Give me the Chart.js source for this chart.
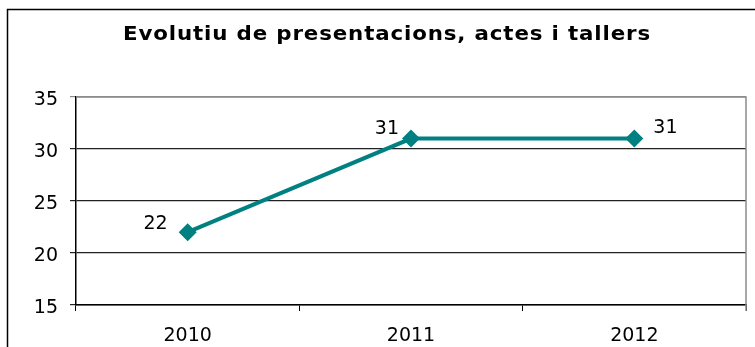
<!DOCTYPE html>
<html>
<head>
<meta charset="utf-8">
<script src="https://cdn.jsdelivr.net/npm/chart.js@4"></script>
<style>
    html, body { margin: 0; padding: 0; background: #fff; }
    #wrap { width: 755px; height: 347px; }
</style>
</head>
<body>
<div id="wrap"><canvas id="chart" width="755" height="347"></canvas></div>
<script>
    // data
    var years = ['2010', '2011', '2012'];
    var events = [22, 31, 31];
    var yTicks = [15, 20, 25, 30, 35];
    var chartTitle = 'Evolutiu de presentacions, actes i tallers';

    var teal = '#008080';
    var font = 'DejaVu Sans';

    // where each value label sits relative to its point: [dx, dy, textAlign]
    var labelPos = [[-20, -8, 'right'], [-12, -10, 'right'], [19, -11, 'left']];

    /* ---- frame, title, plot border ---- */
    var decor = {
        id: 'decor',
        beforeDraw: function (chart) {
            var ctx = chart.ctx;
            ctx.save();
            ctx.fillStyle = '#fff';
            ctx.fillRect(0, 0, chart.width, chart.height);
            ctx.strokeStyle = '#000';
            ctx.lineWidth = 1.5;
            ctx.strokeRect(7.5, 9.5, 900, 500);

            // title, widened a little to a 528px run
            ctx.fillStyle = '#000';
            ctx.font = 'bold 20px "' + font + '"';
            ctx.letterSpacing = '0.8px';
            ctx.textAlign = 'center';
            ctx.textBaseline = 'middle';
            var w = ctx.measureText(chartTitle).width;
            ctx.translate(387, 35);
            ctx.scale(528 / w, 1);
            ctx.fillText(chartTitle, 0, 0);
            ctx.letterSpacing = '0px';
            ctx.restore();
        },
        beforeDatasetsDraw: function (chart) {
            var a = chart.chartArea;
            var ctx = chart.ctx;
            ctx.save();
            ctx.strokeStyle = '#8c8c8c';
            ctx.lineWidth = 1.5;
            ctx.beginPath();
            ctx.moveTo(a.left, a.top);
            ctx.lineTo(a.right, a.top);
            ctx.lineTo(a.right, a.bottom + 6);
            ctx.stroke();
            ctx.restore();
        },
        afterDatasetsDraw: function (chart) {
            var ctx = chart.ctx;
            var meta = chart.getDatasetMeta(0);
            ctx.save();
            ctx.fillStyle = '#000';
            ctx.font = '19px "' + font + '"';
            ctx.textBaseline = 'middle';
            meta.data.forEach(function (pt, i) {
                var p = labelPos[i];
                ctx.textAlign = p[2];
                ctx.fillText(String(events[i]), pt.x + p[0], pt.y + p[1]);
            });
            ctx.restore();
        }
    };

    new Chart(document.getElementById('chart'), {
        type: 'line',
        data: {
            labels: years,
            datasets: [{
                data: events,
                borderColor: teal,
                backgroundColor: teal,
                borderWidth: 4,
                pointStyle: 'rectRot',
                pointRadius: 9,
                pointHoverRadius: 9,
                pointBorderWidth: 0,
                tension: 0
            }]
        },
        options: {
            responsive: false,
            animation: false,
            events: [],
            layout: { padding: { top: 97, right: 2, left: 0, bottom: 0 } },
            plugins: { legend: { display: false }, title: { display: false }, tooltip: { enabled: false } },
            scales: {
                x: {
                    offset: true,
                    afterFit: function (s) { s.height = 42; },
                    grid: { offset: true, drawOnChartArea: false, drawTicks: true, tickLength: 6, color: '#000', lineWidth: 1 },
                    border: { color: '#000', width: 1.5 },
                    ticks: { color: '#000', font: { family: font, size: 19 }, padding: 14, maxRotation: 0 }
                },
                y: {
                    min: yTicks[0],
                    max: yTicks[yTicks.length - 1],
                    afterFit: function (s) { s.width = 76; },
                    afterBuildTicks: function (s) {
                        s.ticks = yTicks.map(function (v) { return { value: v }; });
                    },
                    grid: {
                        color: function (c) { return c.tick && c.tick.value === 35 ? '#8c8c8c' : '#222'; },
                        lineWidth: 1.2,
                        tickLength: 6
                    },
                    border: { color: '#000', width: 1.5 },
                    ticks: { color: '#000', font: { family: font, size: 19 }, padding: 12, labelOffset: 3 }
                }
            }
        },
        plugins: [decor]
    });
</script>
</body>
</html>
